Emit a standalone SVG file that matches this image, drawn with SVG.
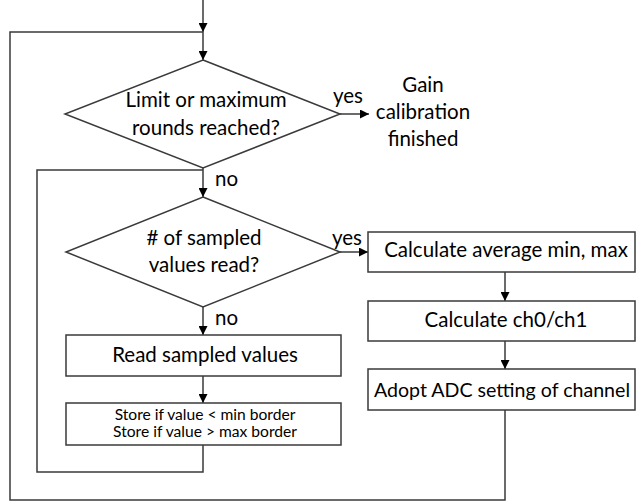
<svg xmlns="http://www.w3.org/2000/svg" width="636" height="503" viewBox="0 0 636 503">
<style>
.s{fill:#fff;stroke:#3a3a3a;stroke-width:1.5}
.c{fill:none;stroke:#3a3a3a;stroke-width:1.5}
text{font-family:Lato,"Open Sans",sans-serif;font-size:20.5px;fill:#000;text-anchor:middle}
.sm{font-size:15.6px}
.l{text-anchor:start}
</style>
<defs>
<marker id="a" viewBox="0 0 10 10" refX="10" refY="5" markerWidth="9" markerHeight="9" markerUnits="userSpaceOnUse" orient="auto">
<path d="M0,0L10,5L0,10z" fill="#000"/>
</marker>
</defs>
<g id="connectors">
<path class="c" d="M203,0V32" marker-end="url(#a)"/>
<path class="c" d="M203,32V60" marker-end="url(#a)"/>
<path class="c" d="M340,114H369" marker-end="url(#a)"/>
<path class="c" d="M203,168V197" marker-end="url(#a)"/>
<path class="c" d="M340,252H368" marker-end="url(#a)"/>
<path class="c" d="M203,307V335" marker-end="url(#a)"/>
<path class="c" d="M203,376V403" marker-end="url(#a)"/>
<path class="c" d="M203,445V472H37V170H203"/>
<path class="c" d="M505,272V301" marker-end="url(#a)"/>
<path class="c" d="M505,341V369" marker-end="url(#a)"/>
<path class="c" d="M505,410V500H10V32H203"/>
<text class="l" x="333" y="103">yes</text>
<text class="l" x="215" y="186">no</text>
<text class="l" x="332" y="245">yes</text>
<text class="l" x="215" y="325">no</text>
</g>
<g id="d1">
<path class="s" d="M203,60L340,114L203,168L65,114Z"/>
<text x="206" y="107">Limit or maximum</text>
<text x="206" y="135">rounds reached?</text>
</g>
<g id="end">
<text x="423" y="92">Gain</text>
<text x="423" y="119">calibration</text>
<text x="423" y="146">finished</text>
</g>
<g id="d2">
<path class="s" d="M203,197L340,252L203,307L66,252Z"/>
<text x="204" y="245">&#35; of sampled</text>
<text x="204" y="272">values read?</text>
</g>
<g id="read">
<rect class="s" x="66" y="335" width="275" height="41"/>
<text x="205" y="362">Read sampled values</text>
</g>
<g id="store">
<rect class="s" x="66" y="403" width="275" height="42"/>
<text class="sm" x="205" y="420">Store if value &lt; min border</text>
<text class="sm" x="205" y="437">Store if value &gt; max border</text>
</g>
<g id="avg">
<rect class="s" x="368" y="232" width="267" height="40"/>
<text x="506" y="257">Calculate average min, max</text>
</g>
<g id="ch">
<rect class="s" x="368" y="301" width="267" height="40"/>
<text x="506" y="327">Calculate ch0/ch1</text>
</g>
<g id="adopt">
<rect class="s" x="368" y="369" width="267" height="41"/>
<text x="502" y="397" style="font-size:19.6px">Adopt ADC setting of channel</text>
</g>
</svg>
